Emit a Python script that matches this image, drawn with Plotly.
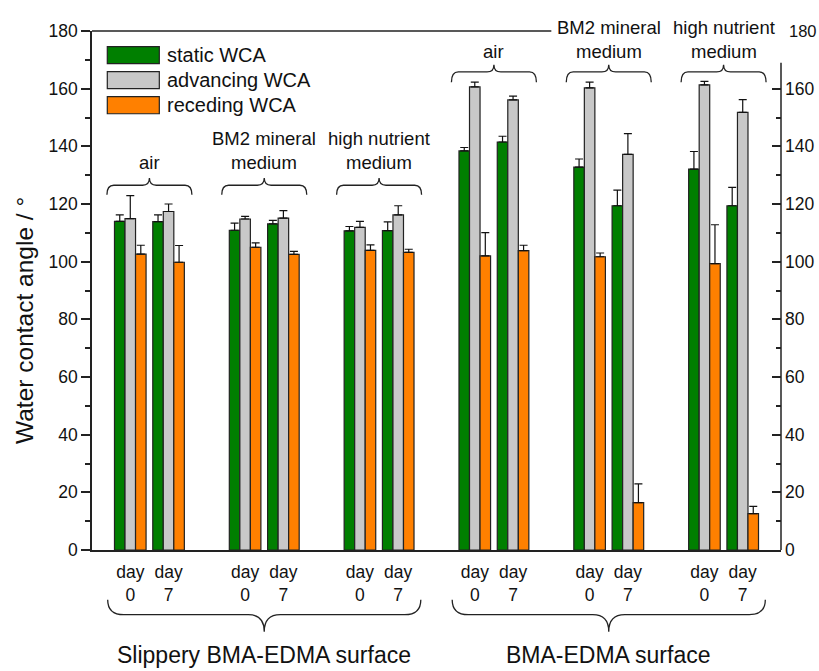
import plotly.graph_objects as go

# ---------------- data ----------------
surfaces = ["Slippery BMA-EDMA surface", "BMA-EDMA surface"]
media = ["air", "BM2 mineral<br>medium", "high nutrient<br>medium"]
days = ["day<br>0", "day<br>7"]

static_wca = [114.0, 113.9, 110.9, 113.1, 110.7, 110.8, 138.4, 141.5, 132.8, 119.4, 132.1, 119.4]
static_err = [2.2, 2.3, 2.5, 1.2, 1.5, 3.0, 1.2, 2.0, 2.8, 5.4, 6.1, 6.4]
advancing_wca = [114.9, 117.4, 114.8, 115.1, 111.9, 116.2, 160.6, 156.1, 160.3, 137.2, 161.3, 151.8]
advancing_err = [8.0, 2.6, 0.9, 2.6, 2.1, 3.2, 1.7, 1.3, 2.0, 7.2, 1.2, 4.4]
receding_wca = [102.6, 99.8, 105.0, 102.5, 103.9, 103.2, 102.0, 103.8, 101.7, 16.4, 99.3, 12.6]
receding_err = [3.1, 5.8, 1.5, 1.1, 1.9, 1.1, 8.1, 1.9, 1.3, 6.5, 13.5, 2.5]

series_names = ["static WCA", "advancing WCA", "receding WCA"]
y_title = "Water contact angle / °"
y_ticks_left = [0, 20, 40, 60, 80, 100, 120, 140, 160, 180]
y_ticks_right = [0, 20, 40, 60, 80, 100, 120, 140, 160]

# ---------------- styling ----------------
FONT = "Liberation Sans, Arial, sans-serif"
colors = ["#007F00", "#C8C8C8", "#FF8000"]
EDGE = "#222222"
TXT = "#111111"

n_groups = len(surfaces) * len(media)
xpos = [3 * g + d for g in range(n_groups) for d in range(len(days))]
ticktext = [days[d] for g in range(n_groups) for d in range(len(days))]

fig = go.Figure()
for name, vals, errs, col in zip(series_names,
                                 [static_wca, advancing_wca, receding_wca],
                                 [static_err, advancing_err, receding_err],
                                 colors):
    fig.add_trace(go.Bar(
        x=xpos, y=vals, name=name,
        marker=dict(color=col, line=dict(color=EDGE, width=1.2)),
        error_y=dict(type="data", symmetric=False, array=errs,
                     arrayminus=[0] * len(errs), color=TXT,
                     thickness=1.2, width=4),
        showlegend=False,
    ))

# invisible trace to activate right axis
fig.add_trace(go.Scatter(x=[xpos[0]], y=[0], yaxis="y2", mode="markers",
                         marker=dict(opacity=0), showlegend=False, hoverinfo="skip"))

shapes = []
annotations = []


def brace(xc, hw, y_end, y_mid, y_tip, rx):
    x0, x1 = xc - hw, xc + hw
    return (f"M {x0},{y_end} Q {x0},{y_mid} {x0 + rx},{y_mid} "
            f"L {xc - rx},{y_mid} Q {xc},{y_mid} {xc},{y_tip} "
            f"Q {xc},{y_mid} {xc + rx},{y_mid} L {x1 - rx},{y_mid} "
            f"Q {x1},{y_mid} {x1},{y_end}")


# top braces and medium labels
brace_levels = [(123.2, 126.5, 129.0, 134.3, 138.7), (162.2, 165.8, 168.3, 172.9, 177.2)]
for s in range(len(surfaces)):
    y_end, y_mid, y_tip, y_single, y_double = brace_levels[s]
    for m in range(len(media)):
        g = s * len(media) + m
        xc = 3 * g + 0.5
        shapes.append(dict(type="path", xref="x", yref="y",
                           path=brace(xc, 1.11, y_end, y_mid, y_tip, 0.18),
                           line=dict(color=EDGE, width=1.3)))
        two = "<br>" in media[m]
        annotations.append(dict(xref="x", yref="y", x=xc,
                                y=y_double if two else y_single,
                                text=media[m], showarrow=False,
                                xanchor="center", yanchor="middle",
                                font=dict(size=18.5, color=TXT, family=FONT)))

# bottom braces and surface labels
for s in range(len(surfaces)):
    xc = 3 * len(media) * s + 3.5
    shapes.append(dict(type="path", xref="x", yref="paper",
                       path=brace(xc, 4.09, -0.0958, -0.1247, -0.1574, 0.42),
                       line=dict(color=EDGE, width=1.3)))
    annotations.append(dict(xref="x", yref="paper", x=xc, y=-0.2017,
                            text=surfaces[s], showarrow=False, borderpad=0,
                            xanchor="center", yanchor="middle",
                            font=dict(size=23, color=TXT, family=FONT)))

# y-axis title
annotations.append(dict(xref="paper", yref="paper", x=-0.0983, y=0.4418,
                        text=y_title, textangle=-90, showarrow=False,
                        xanchor="center", yanchor="middle",
                        font=dict(size=24.5, color=TXT, family=FONT)))

# frame: top line (partial) and right axis line (partial)
shapes.append(dict(type="line", xref="x", yref="paper", x0=-1, x1=11, y0=1, y1=1,
                   line=dict(color=EDGE, width=1.5)))
shapes.append(dict(type="line", xref="paper", yref="y", x0=1, x1=1, y0=0, y1=169,
                   line=dict(color=EDGE, width=1.5)))
annotations.append(dict(xref="paper", yref="y", x=1, y=180, xshift=7, text="180",
                        showarrow=False, xanchor="left", yanchor="middle", borderpad=0,
                        font=dict(size=16.5, color=TXT, family=FONT)))

# custom legend
leg_rows = [0.9534, 0.9052, 0.8570]
for name, col, yc in zip(series_names, colors, leg_rows):
    shapes.append(dict(type="rect", xref="paper", yref="paper",
                       x0=0.0222, x1=0.0977, y0=yc - 0.0164, y1=yc + 0.0164,
                       fillcolor=col, line=dict(color=EDGE, width=1.2)))
    annotations.append(dict(xref="paper", yref="paper", x=0.1066, y=yc, text=name,
                            showarrow=False, xanchor="left", yanchor="middle",
                            font=dict(size=20, color=TXT, family=FONT)))

fig.update_layout(
    width=819, height=671,
    margin=dict(l=92, r=38, t=31, b=121, autoexpand=False),
    paper_bgcolor="white", plot_bgcolor="white",
    barmode="group", bargap=0.175,
    font=dict(family=FONT, color=TXT, size=17.5),
    shapes=shapes, annotations=annotations,
    xaxis=dict(range=[-1, 17], tickmode="array", tickvals=xpos, ticktext=ticktext,
               showline=True, linecolor=EDGE, linewidth=1.5,
               ticks="outside", ticklen=5, tickcolor="rgba(0,0,0,0)",
               showgrid=False, zeroline=False, automargin=False,
               tickfont=dict(size=17.5, family=FONT, color=TXT)),
    yaxis=dict(range=[0, 180], tickmode="array", tickvals=y_ticks_left,
               showline=True, linecolor=EDGE, linewidth=1.5,
               ticks="outside", ticklen=9, tickwidth=1.5, tickcolor=EDGE,
               minor=dict(ticks="outside", ticklen=5, tickwidth=1.5, tickcolor=EDGE,
                          tickvals=[10, 30, 50, 70, 90, 110, 130, 150, 170]),
               showgrid=False, zeroline=False, automargin=False,
               tickfont=dict(size=17.5, family=FONT, color=TXT)),
    yaxis2=dict(range=[0, 180], overlaying="y", side="right", anchor="x",
                tickmode="array", tickvals=y_ticks_right,
                showline=False, ticks="inside", ticklen=9, tickwidth=1.5, tickcolor=EDGE,
                minor=dict(ticks="inside", ticklen=5, tickwidth=1.5, tickcolor=EDGE,
                           tickvals=[10, 30, 50, 70, 90, 110, 130, 150]),
                ticklabelstandoff=3,
                showgrid=False, zeroline=False, automargin=False,
                tickfont=dict(size=17.5, family=FONT, color=TXT)),
)

# remove the default page margin so the 819x671 figure fills the window exactly
fig.write_html(
    "out.html",
    config={"displayModeBar": False},
    post_script=("document.documentElement.style.overflow='hidden';"
                 "document.body.style.overflow='hidden';"
                 "document.body.style.margin='0';"),
)
